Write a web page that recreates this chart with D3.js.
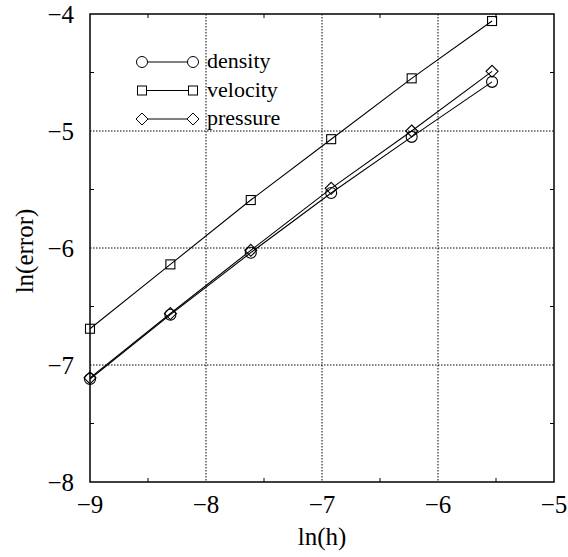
<!DOCTYPE html>
<html>
<head>
<meta charset="utf-8">
<script src="https://cdn.jsdelivr.net/npm/d3@7"></script>
<style>
body { margin: 0; background: #fff; }
</style>
</head>
<body>
<svg width="568" height="557"></svg>
<script>
// ln(h) for successive halvings of h
var lnh = [-9.0, -8.307, -7.614, -6.921, -6.227, -5.534];
var density  = [-7.12, -6.57, -6.04, -5.53, -5.05, -4.58];
var velocity = [-6.69, -6.14, -5.59, -5.07, -4.55, -4.06];
var pressure = [-7.11, -6.56, -6.02, -5.49, -5.00, -4.49];
var seriesNames = ["density", "velocity", "pressure"];
var xTicks = [-9, -8, -7, -6, -5];
var yTicks = [-8, -7, -6, -5, -4];

var svg = d3.select("svg")
    .attr("font-family", "'Liberation Serif', 'Times New Roman', Times, serif"),
    pLeft = 90, pRight = 554, pTop = 14, pBottom = 482;

var x = d3.scaleLinear().domain([-9, -5]).range([pLeft, pRight]);
var y = d3.scaleLinear().domain([-8, -4]).range([pBottom, pTop]);

// grid (dotted) at inner major ticks
svg.append("g").selectAll("line")
    .data(xTicks.slice(1, -1))
    .enter().append("line")
    .attr("x1", d => x(d)).attr("x2", d => x(d))
    .attr("y1", pTop).attr("y2", pBottom)
    .attr("stroke", "#000").attr("stroke-width", 1)
    .attr("stroke-dasharray", "1.5,1.5");
svg.append("g").selectAll("line")
    .data(yTicks.slice(1, -1))
    .enter().append("line")
    .attr("y1", d => y(d)).attr("y2", d => y(d))
    .attr("x1", pLeft).attr("x2", pRight)
    .attr("stroke", "#000").attr("stroke-width", 1)
    .attr("stroke-dasharray", "1.5,1.5");

// minor ticks inside, on all four sides
var xMinor = d3.range(-8.5, -5, 1), yMinor = d3.range(-7.5, -4, 1);
var tk = svg.append("g").attr("stroke", "#000").attr("stroke-width", 1);
xMinor.forEach(function(v) {
  tk.append("line").attr("x1", x(v)).attr("x2", x(v)).attr("y1", pBottom).attr("y2", pBottom - 4);
  tk.append("line").attr("x1", x(v)).attr("x2", x(v)).attr("y1", pTop).attr("y2", pTop + 4);
});
yMinor.forEach(function(v) {
  tk.append("line").attr("y1", y(v)).attr("y2", y(v)).attr("x1", pLeft).attr("x2", pLeft + 4);
  tk.append("line").attr("y1", y(v)).attr("y2", y(v)).attr("x1", pRight).attr("x2", pRight - 4);
});

// frame
svg.append("rect")
    .attr("x", pLeft).attr("y", pTop)
    .attr("width", pRight - pLeft).attr("height", pBottom - pTop)
    .attr("fill", "none").attr("stroke", "#000").attr("stroke-width", 1.5);

// tick labels
svg.append("g").selectAll("text")
    .data(xTicks)
    .enter().append("text")
    .attr("x", d => x(d)).attr("y", pBottom + 31)
    .attr("text-anchor", "middle")
    .attr("font-size", 25)
    .text(d => "\u2212" + Math.abs(d));
svg.append("g").selectAll("text")
    .data(yTicks)
    .enter().append("text")
    .attr("x", pLeft - 16).attr("y", d => y(d) + 9)
    .attr("text-anchor", "end")
    .attr("font-size", 25)
    .text(d => "\u2212" + Math.abs(d));

// axis titles
svg.append("text")
    .attr("x", (pLeft + pRight) / 2).attr("y", 545)
    .attr("text-anchor", "middle")
    .attr("font-size", 25)
    .text("ln(h)");
svg.append("text")
    .attr("transform", "translate(33," + ((pTop + pBottom) / 2 + 3) + ") rotate(-90)")
    .attr("text-anchor", "middle")
    .attr("font-size", 25)
    .text("ln(error)");

// markers
function marker(g, kind, cx, cy) {
  if (kind === "density") {
    g.append("circle").attr("cx", cx).attr("cy", cy).attr("r", 5.5);
  } else if (kind === "velocity") {
    g.append("rect").attr("x", cx - 4.5).attr("y", cy - 4.5).attr("width", 9).attr("height", 9);
  } else {
    g.append("path").attr("d", "M" + cx + "," + (cy - 6) + "L" + (cx + 6) + "," + cy +
      "L" + cx + "," + (cy + 6) + "L" + (cx - 6) + "," + cy + "Z");
  }
}

var allSeries = [density, velocity, pressure];
var line = d3.line().x(d => x(d[0])).y(d => y(d[1]));

allSeries.forEach(function(vals, i) {
  var pts = lnh.map((v, j) => [v, vals[j]]);
  var g = svg.append("g").attr("fill", "none").attr("stroke", "#000").attr("stroke-width", 1.1);
  g.append("path").attr("d", line(pts));
  pts.forEach(function(p) { marker(g, seriesNames[i], x(p[0]), y(p[1])); });
});

// legend
var leg = svg.append("g");
seriesNames.forEach(function(name, i) {
  var ly = 62 + i * 28.5;
  var g = leg.append("g").attr("fill", "#fff").attr("stroke", "#000").attr("stroke-width", 1);
  g.append("line").attr("x1", 142).attr("x2", 193).attr("y1", ly).attr("y2", ly);
  marker(g, name, 142, ly);
  marker(g, name, 193, ly);
  leg.append("text").attr("x", 207).attr("y", ly + 6)
    .attr("font-size", 22).text(name);
});
</script>
</body>
</html>
